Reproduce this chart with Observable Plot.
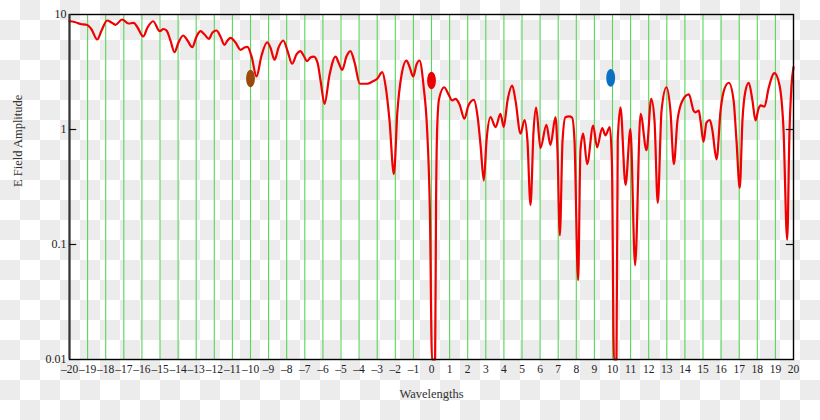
<!DOCTYPE html>
<html><head><meta charset="utf-8">
<script src="https://cdn.jsdelivr.net/npm/d3@7"></script>
<script src="https://cdn.jsdelivr.net/npm/@observablehq/plot@0.6"></script>
<style>
html,body{margin:0;padding:0;width:820px;height:420px;overflow:hidden;
background-color:#fff;
background-image:conic-gradient(#ececec 25%, #ffffff 0 50%, #ececec 0 75%, #ffffff 0);
background-size:40px 40px;}
#chart svg{display:block;}
</style></head><body><div id="chart"></div>
<script>
// Wavelength positions (x) and E-field amplitude values
const wavelength = [
 -20.00,-19.72,-19.39,-19.06,-18.78,-18.47,-18.23,-17.92,-17.68,-17.46,
 -17.09,-16.74,-16.46,-16.24,-15.93,-15.69,-15.38,-15.01,-14.81,-14.64,
 -14.42,-14.20,-13.98,-13.72,-13.48,-13.22,-12.98,-12.76,-12.54,-12.30,
 -12.10,-11.88,-11.66,-11.44,-11.27,-11.10,-10.83,-10.55,-10.33,-10.17,
 -9.94,-9.67,-9.39,-9.08,-8.90,-8.67,-8.45,-8.19,-7.96,-7.70,
 -7.46,-7.24,-7.07,-6.87,-6.69,-6.50,-6.30,-6.13,-5.91,-5.64,
 -5.30,-5.14,-4.93,-4.70,-4.48,-4.25,-3.96,-3.55,-3.26,-3.00,
 -2.72,-2.54,-2.32,-2.08,-1.88,-1.66,-1.38,-1.22,-1.01,-0.83,
 -0.66,-0.44,-0.24,-0.09,0.03,0.20,0.25,0.31,0.42,0.70,
 0.94,1.14,1.33,1.55,1.82,2.04,2.34,2.54,2.71,2.89,
 3.04,3.26,3.54,3.81,3.99,4.20,4.46,4.64,4.92,5.14,
 5.30,5.47,5.64,5.78,6.02,6.35,6.57,6.85,6.96,7.09,
 7.24,7.40,7.59,7.77,7.90,8.10,8.23,8.38,8.60,8.93,
 9.15,9.43,9.61,9.85,9.97,10.08,10.22,10.29,10.44,10.72,
 10.99,11.25,11.55,11.88,12.14,12.32,12.50,12.71,12.98,13.20,
 13.39,13.59,13.87,14.22,14.48,14.59,14.77,14.86,15.03,15.19,
 15.38,15.52,15.75,15.97,16.19,16.43,16.69,16.85,17.03,17.18,
 17.35,17.53,17.73,17.90,18.07,18.18,18.40,18.62,18.95,19.23,
 19.45,19.65,19.78,19.89,20.00
];
const amplitude = [
 8.74,8.61,8.27,8.14,7.41,6.06,7.26,8.87,8.52,8.14,
 9.05,8.35,8.44,7.71,6.44,7.71,8.74,7.16,7.48,7.26,
 5.94,4.70,5.71,6.57,5.94,5.20,6.44,7.16,6.70,6.15,
 6.97,7.26,6.44,5.45,5.94,6.27,5.71,4.93,5.16,5.22,
 4.31,2.89,4.40,5.74,5.16,4.04,5.16,5.94,4.86,3.73,
 4.49,4.80,4.40,3.93,4.23,4.31,3.83,2.67,1.67,2.95,
 4.31,3.83,3.30,4.31,4.80,3.83,2.50,2.50,2.61,2.76,
 3.15,2.41,1.20,0.41,1.46,2.95,3.98,3.53,2.89,3.67,
 3.98,2.40,0.98,0.20,0.0001,0.0001,0.21,0.98,1.85,2.33,
 2.02,1.79,1.85,1.65,1.24,1.62,1.81,1.32,0.73,0.36,
 0.80,1.28,1.05,1.37,1.05,1.79,2.41,1.79,0.92,1.21,
 0.80,0.22,0.98,1.55,0.69,1.10,0.73,1.28,0.66,0.12,
 0.80,1.28,1.30,1.27,0.80,0.049,0.66,0.92,0.50,1.08,
 0.70,1.03,0.89,1.05,0.50,0.0001,0.0001,0.80,1.56,0.33,
 1.01,0.066,1.37,0.66,1.85,1.20,0.23,1.46,2.33,1.46,
 0.50,1.20,1.79,2.02,1.46,1.41,1.46,1.20,0.78,1.15,
 1.21,0.98,0.55,1.46,2.27,2.55,1.79,0.80,0.31,1.20,
 2.18,2.55,1.79,1.20,1.52,1.62,1.58,2.27,3.09,2.41,
 0.98,0.11,0.98,2.41,3.48
];
// Vertical grid lines (one per wavelength)
const gridLines = [-19,-18,-17,-16,-15,-14,-13,-12,-11,-10,-9,-8,-7,-6,-5,-4,-3,-2,-1,0,
  1,2,3,4,5,6,7,8,9,10,11,12,13,14,15,16,17,18,19];
const xTickValues = [-20,-19,-18,-17,-16,-15,-14,-13,-12,-11,-10,-9,-8,-7,-6,-5,-4,-3,-2,-1,0,
  1,2,3,4,5,6,7,8,9,10,11,12,13,14,15,16,17,18,19,20];
const yTickValues = [0.01, 0.1, 1, 10];
const yTickLabels = ["0.01", "0.1", "1", "10"];
const innerTickValues = [0.1, 1];
// Source markers
const markerX = [-10, 0, 9.9];
const markerY = [2.77, 2.67, 2.81];
const markerColors = ["#9a4b0c", "#ee0000", "#0a70c2"];
const xTitle = "Wavelengths";
const yTitle = "E Field Amplitude";

const curveData = wavelength.map((x, i) => ({x, y: amplitude[i]}));
const markers = markerX.map((x, i) => ({x, y: markerY[i], color: markerColors[i]}));

const K = 0.5523;
const ellipse = {
  draw(ctx, size) {
    const rx = 4.4, ry = 8.8;
    ctx.moveTo(rx, 0);
    ctx.bezierCurveTo(rx, K * ry, K * rx, ry, 0, ry);
    ctx.bezierCurveTo(-K * rx, ry, -rx, K * ry, -rx, 0);
    ctx.bezierCurveTo(-rx, -K * ry, -K * rx, -ry, 0, -ry);
    ctx.bezierCurveTo(K * rx, -ry, rx, -K * ry, rx, 0);
    ctx.closePath();
  }
};

const chart = Plot.plot({
  width: 820, height: 420,
  marginLeft: 69, marginRight: 27, marginTop: 14, marginBottom: 61,
  style: {fontFamily: "'Liberation Serif', 'Times New Roman', serif", fontSize: "11.5px", background: "transparent", color: "#222"},
  x: {domain: [-20, 20]},
  y: {type: "log", domain: [0.01, 10], clamp: true},
  color: {type: "identity"},
  marks: [
    Plot.ruleX(gridLines, {stroke: "#58d658", strokeWidth: 1.1}),
    Plot.line(curveData, {x: "x", y: "y", stroke: "#f00000", strokeWidth: 2.2, curve: "monotone-x"}),
    Plot.dot(markers, {x: "x", y: "y", fill: "color", r: 5, symbol: ellipse, stroke: "none"}),
    Plot.frame({stroke: "#000", strokeWidth: 1.4}),
    Plot.ruleX([-20], {stroke: "#333", strokeWidth: 2}),
    Plot.ruleY(innerTickValues, {x1: -20, x2: -19.6, stroke: "#111", strokeWidth: 1.2}),
    Plot.ruleY(innerTickValues, {x1: 19.6, x2: 20, stroke: "#111", strokeWidth: 1.2}),
    Plot.axisX({ticks: xTickValues, tickSize: 0, tickPadding: 5, label: null, fontSize: 11.5,
      tickFormat: d => d < 0 ? "\u2013" + (-d) : String(d)}),
    Plot.axisY({ticks: yTickValues, tickSize: 0, tickPadding: 3, label: null, fontSize: 12,
      tickFormat: d => yTickLabels[yTickValues.indexOf(d)]}),
    Plot.text([xTitle], {text: d => d, frameAnchor: "bottom", dy: 38, fontSize: 12.5, fill: "#333"}),
    Plot.text([yTitle], {text: d => d, frameAnchor: "left", dx: -52, rotate: -90, fontSize: 12.5, fill: "#333"})
  ]
});
document.getElementById("chart").appendChild(chart);
</script>
</body></html>
